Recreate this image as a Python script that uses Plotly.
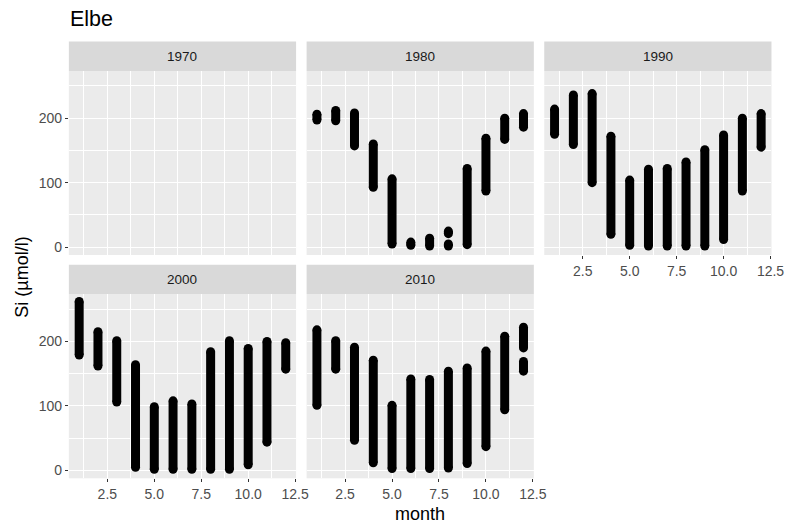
import plotly.graph_objects as go

W, H = 795, 524

# ---- data (Si, µmol/l): vertical ranges of observed points per month ----
decades = ["1970", "1980", "1990", "2000", "2010"]

month_1970 = []
lo_1970 = []
hi_1970 = []

month_1980 = [1, 2, 3, 4, 5, 6, 7, 8, 8, 9, 10, 11, 12]
lo_1980 = [197, 196, 157, 93, 5, 3, 2, 2, 21, 4, 87, 167, 186]
hi_1980 = [206, 212, 208, 160, 106, 8, 14, 5, 25, 122, 169, 200, 207]

month_1990 = [1, 2, 3, 4, 5, 6, 7, 8, 9, 10, 11, 12]
lo_1990 = [175, 159, 100, 20, 3, 2, 2, 2, 2, 12, 87, 155]
hi_1990 = [214, 236, 238, 172, 104, 121, 122, 132, 151, 174, 200, 207]

month_2000 = [1, 2, 3, 4, 5, 6, 7, 8, 9, 10, 11, 12]
lo_2000 = [179, 162, 106, 5, 2, 2, 2, 2, 2, 9, 44, 157]
hi_2000 = [262, 215, 201, 164, 99, 108, 103, 184, 201, 189, 200, 198]

month_2010 = [1, 2, 3, 4, 5, 6, 7, 8, 9, 10, 11, 12, 12]
lo_2010 = [101, 157, 47, 12, 3, 3, 3, 4, 11, 37, 94, 154, 190]
hi_2010 = [218, 201, 191, 171, 101, 142, 141, 154, 159, 185, 208, 169, 222]

x_ticks = [2.5, 5.0, 7.5, 10.0, 12.5]
x_tick_text = ["2.5", "5.0", "7.5", "10.0", "12.5"]
y_ticks = [0, 100, 200]
y_tick_text = ["0", "100", "200"]

series = {
    "1970": (month_1970, lo_1970, hi_1970),
    "1980": (month_1980, lo_1980, hi_1980),
    "1990": (month_1990, lo_1990, hi_1990),
    "2000": (month_2000, lo_2000, hi_2000),
    "2010": (month_2010, lo_2010, hi_2010),
}

# ---- layout geometry (pixels) ----
cols = [(70, 301), (311.7, 542.7), (553.3, 784.3)]
rows = [(71, 255), (294.3, 478.3)]
strip_h = 29.5
panel_pos = {"1970": (0, 0), "1980": (0, 1), "1990": (0, 2), "2000": (1, 0), "2010": (1, 1)}

def fx(px):
    return px / W

def fy(py):
    return 1 - py / H

FONT = "Liberation Sans, Arial, Helvetica, sans-serif"
fig = go.Figure()
layout = dict(
    width=W, height=H, autosize=False,
    margin=dict(l=0, r=0, t=0, b=0),
    paper_bgcolor="white", plot_bgcolor="#EBEBEB",
    showlegend=False, font=dict(family=FONT),
)
shapes = []
annotations = []

for i, dec in enumerate(decades):
    r, c = panel_pos[dec]
    n = "" if i == 0 else str(i + 1)
    x0, x1 = cols[c]
    y0, y1 = rows[r]
    months, lo, hi = series[dec]
    xs, ys = [], []
    for m, a, b in zip(months, lo, hi):
        xs += [m, m, None]
        ys += [a, b, None]
    fig.add_trace(go.Scatter(
        x=xs if xs else [None], y=ys if ys else [None],
        mode="lines+markers",
        line=dict(color="black", width=9),
        marker=dict(color="black", size=9),
        xaxis="x" + n, yaxis="y" + n, hoverinfo="skip",
    ))
    show_x = (r == 1) or (c == 2)
    show_y = (c == 0)
    layout["xaxis" + n] = dict(
        domain=[fx(x0), fx(x1)], anchor="y" + n, range=[0.45, 12.55],
        tickvals=x_ticks, ticktext=x_tick_text, showticklabels=show_x,
        ticks="outside" if show_x else "", ticklen=3, tickwidth=1, tickcolor="#333333",
        tickfont=dict(size=14, color="#4D4D4D", family=FONT),
        showgrid=True, gridcolor="white", gridwidth=1.1, zeroline=False, showline=False,
        minor=dict(tickvals=[1.25, 3.75, 6.25, 8.75, 11.25], showgrid=True,
                   gridcolor="white", gridwidth=0.5, ticks=""),
        fixedrange=True,
    )
    layout["yaxis" + n] = dict(
        domain=[fy(y1), fy(y0)], anchor="x" + n, range=[-12, 273],
        tickvals=y_ticks, ticktext=y_tick_text, showticklabels=show_y,
        ticks="outside" if show_y else "", ticklen=3, tickwidth=1, tickcolor="#333333",
        tickfont=dict(size=14, color="#4D4D4D", family=FONT),
        showgrid=True, gridcolor="white", gridwidth=1.1, zeroline=False, showline=False,
        minor=dict(tickvals=[50, 150, 250], showgrid=True,
                   gridcolor="white", gridwidth=0.5, ticks=""),
        fixedrange=True,
    )
    # strip
    shapes.append(dict(type="rect", xref="paper", yref="paper",
                       x0=fx(x0), x1=fx(x1), y0=fy(y0), y1=fy(y0 - strip_h),
                       fillcolor="#D9D9D9", line=dict(width=0), layer="below"))
    annotations.append(dict(text=dec, xref="paper", yref="paper",
                            x=fx((x0 + x1) / 2), y=fy(y0 - strip_h / 2),
                            showarrow=False, xanchor="center", yanchor="middle",
                            font=dict(size=13.5, color="#1A1A1A", family=FONT)))

annotations.append(dict(text="Elbe", xref="paper", yref="paper", x=fx(69), y=fy(19),
                        showarrow=False, xanchor="left", yanchor="middle",
                        font=dict(size=21.5, color="black", family=FONT)))
annotations.append(dict(text="month", xref="paper", yref="paper", x=fx(427), y=fy(514),
                        showarrow=False, xanchor="center", yanchor="middle",
                        font=dict(size=18, color="black", family=FONT)))
annotations.append(dict(text="Si (µmol/l)", xref="paper", yref="paper", x=fx(22), y=fy(277),
                        showarrow=False, xanchor="center", yanchor="middle", textangle=-90,
                        font=dict(size=18, color="black", family=FONT)))

layout["shapes"] = shapes
layout["annotations"] = annotations
fig.update_layout(**layout)
fig.write_html("out.html")
